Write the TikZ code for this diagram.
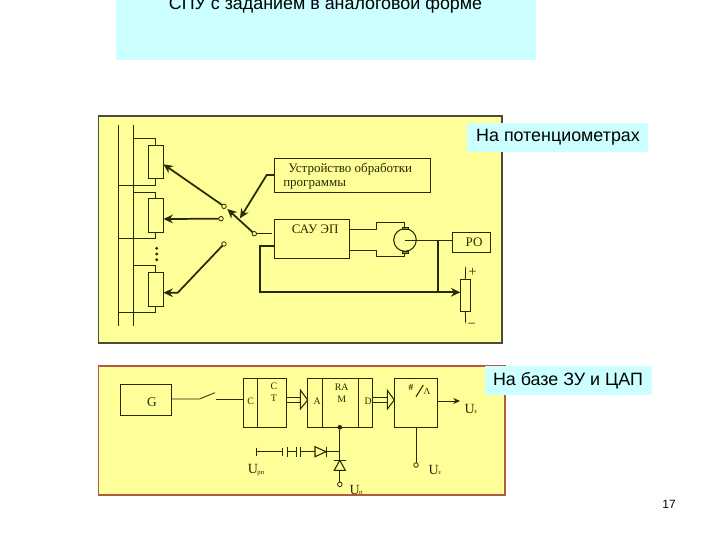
\documentclass[tikz,border=0pt]{standalone}
\usepackage{fontspec}
\setmainfont{Liberation Serif}
\newfontfamily\arial{Liberation Sans}
\usetikzlibrary{arrows.meta}
\definecolor{panely}{HTML}{FFFF99}
\definecolor{capc}{HTML}{CCFFFF}
\definecolor{ink}{HTML}{2A2A00}
\definecolor{border}{HTML}{4C4C3C}
\definecolor{redb}{HTML}{B05A40}
\newcommand{\pbox}[6][]{%
  \pgfmathsetmacro{\bw}{(#5-#3)*0.75}\pgfmathsetmacro{\bh}{(#6-#4)*0.75}%
  \node[blk,#1,minimum width=\bw pt,minimum height=\bh pt] (#2) at ({(#3+#5)/2},{(#4+#6)/2}) {};}
\newcommand{\usub}[1]{U\kern-0.5pt\raisebox{-0.1ex}{\fontsize{5}{5}\selectfont #1}}
\tikzset{
  blk/.style={draw=ink,line width=0.75pt,inner sep=0pt,outer sep=0pt},
  wire/.style={draw=ink,line width=0.6pt},
  bold/.style={draw=ink,line width=1.4pt},
  tipw/.style={draw=ink,line width=1.3pt,-{Stealth[length=7pt,width=6.5pt]}},
  cont/.style={circle,draw=ink,fill=panely,line width=0.6pt,minimum size=3.4pt,inner sep=0pt,outer sep=0pt},
  lab/.style={text=ink,font=\fontsize{9.75}{11}\selectfont,inner sep=0pt},
  slab/.style={text=ink,font=\fontsize{7.4}{8}\selectfont,inner sep=0pt},
  ulab/.style={text=ink,font=\fontsize{10.5}{11}\selectfont,inner sep=0pt},
  capbox/.style={fill=capc,inner sep=0pt,outer sep=0pt},
  captext/.style={text=black,font=\arial\fontsize{13.4}{15}\selectfont,inner sep=0pt},
  busarrow/.style={draw=ink,line width=0.8pt,fill=panely},
}
\begin{document}
\begin{tikzpicture}[x=0.75pt,y=-0.75pt]
\useasboundingbox[fill=white] (0,0) rectangle (720,540);
% title
\pbox[capbox,draw=none]{titlebox}{116}{0}{536}{60}
\begin{scope}
\clip (0,0) rectangle (720,540);
\node[captext] (title) at (325.5,4.5) {СПУ с заданием в аналоговой форме};
\end{scope}
% panels
\pbox[fill=panely,draw=border,line width=1pt]{panelA}{98.5}{116}{502}{343}
\pbox[fill=panely,draw=redb,line width=1pt]{panelB}{98.5}{366}{505}{495}
\pbox[capbox,draw=none]{capA}{467}{123}{648}{152}
\node[captext] (capAt) at (558,137.7) {На потенциометрах};
\pbox[capbox,draw=none]{capB}{485}{366}{651.7}{395}
\node[captext] (capBt) at (568,381) {На базе ЗУ и ЦАП};
\node[text=black,font=\arial\fontsize{9}{10}\selectfont,inner sep=0pt] (pg) at (669,504) {17};

% buses
\coordinate (b1t) at (118.7,125); \coordinate (b1b) at (118.7,325.7);
\coordinate (b2t) at (133.7,125); \coordinate (b2b) at (133.7,325.7);
\draw[wire] (b1t) -- (b1b); \draw[wire] (b2t) -- (b2b);
% potentiometers
\pbox{r1}{148}{145}{163.5}{178.7}
\pbox{r2}{148}{198.7}{163.5}{232.3}
\pbox{r3}{148}{272.3}{163.5}{306}
\foreach \r/\yt/\yb in {r1/138.3/185.3,r2/192/238.7,r3/265.3/312.3}{
  \coordinate (\r t) at (133.7,\yt);
  \coordinate (\r b) at (118.7,\yb);
  \draw[wire] (\r t) -| (\r.north);
  \draw[wire] (\r.south) |- (\r b);
}
\foreach \yy in {248.3,254,259.7}{\fill[ink] (156.7,\yy) circle[radius=1.6];}
% contacts
\node[cont] (c1) at (224,206.3) {};
\node[cont] (c2) at (221,218.7) {};
\node[cont] (c3) at (224,244) {};
\node[cont] (pole) at (254.3,233.7) {};
\coordinate (a1) at (163.5,164.3);
\coordinate (a2) at (163.5,219);
\coordinate (a3) at (163.5,292.7);
\coordinate (k3) at (177.7,292.7);
\draw[tipw] (c1) -- (a1);
\draw[tipw] (c2) -- (a2);
\draw[tipw] (c3) -- (k3) -- (a3);
\coordinate (polet) at (227.3,209);
\draw[tipw] (pole) -- (polet);
% boxes
\pbox{prog}{274.3}{158.7}{430.7}{192}
\node[lab,anchor=west] (progA) at (288,169) {Устройство обработки};
\node[lab,anchor=west] (progB) at (283,185) {программы};
\pbox{sau}{274.3}{219}{349}{258.7}
\node[lab,anchor=west] (saut) at (291.5,229) {САУ ЭП};
\coordinate (pk) at (266.7,175); \coordinate (pt) at (240,218.3);
\draw[tipw] (prog.west |- pk) -- (pk) -- (pt);
\coordinate (polee) at (272.3,233.7);
\draw[wire] (pole) -- (polee);
% motor
\node[circle,draw=ink,line width=0.8pt,minimum size=22.6*0.75pt,inner sep=0pt,outer sep=0pt] (mot) at (405,240) {};
\pbox[fill=ink!55!panely,line width=0.4pt]{brT}{402}{227.2}{408}{229.2}
\pbox[fill=ink!55!panely,line width=0.4pt]{brB}{402}{250.8}{408}{252.8}
\coordinate (s1) at (349,229); \coordinate (s2) at (376.7,229); \coordinate (s3) at (376.7,222.7); \coordinate (s4) at (404.3,222.7);
\draw[wire] (s1) -- (s2) -- (s3) -- (s4) -- (404.3,227.2);
\coordinate (t1) at (349,250.3); \coordinate (t2) at (376.7,250.3); \coordinate (t3) at (376.7,256.7); \coordinate (t4) at (404.3,256.7);
\draw[wire] (t1) -- (t2) -- (t3) -- (t4) -- (404.3,252.8);
% RO
\pbox{ro}{452.3}{232}{490}{252}
\node[lab] (rot) at (474,242.5) {РО};
\coordinate (mc) at (405,240.3);
\draw[bold,line width=1pt] (mc) -- (ro.west |- mc);
% feedback
\pbox{rfb}{460.3}{279.3}{470.3}{311.3}
\coordinate (fk) at (438.3,292.3);
\coordinate (f0) at (438.3,240.3);
\coordinate (fs) at (274.3,245.7);
\coordinate (f1) at (260,245.7);
\coordinate (f2) at (260,292.3);
\coordinate (f3) at (460.3,292.3);
\draw[bold] (f0) -- (fk);
\draw[tipw] (fs) -- (f1) -- (f2) -- (f3);
\coordinate (lt) at (465.7,266.7); \coordinate (lb) at (465.7,323.3);
\draw[wire] (lt) -- (rfb.north); \draw[wire] (rfb.south) -- (lb);
\node[text=ink,font=\fontsize{11}{12}\selectfont,inner sep=0pt] (plus) at (472.5,272.5) {+};
\node[text=ink,font=\fontsize{11}{12}\selectfont,inner sep=0pt] (minus) at (471.7,325.7) {−};

% panel B
\pbox{gen}{120.7}{384.7}{171.3}{415.3}
\node[text=ink,font=\fontsize{10}{11}\selectfont,inner sep=0pt] (gt) at (152,402.3) {G};
\pbox{cc}{243}{378.3}{257.3}{427.3}
\pbox{ct}{257.3}{378.3}{286.7}{427.3}
\node[slab] (cl) at (250.7,401) {C};
\node[slab] (ctA) at (274,386.7) {C};
\node[slab] (ctB) at (274,398.3) {T};
\coordinate (sw1) at (199.3,399); \coordinate (sw2) at (215,392.7); \coordinate (sw3) at (216,399);
\draw[wire] (gen.east |- sw1) -- (sw1) -- (sw2);
\draw[wire] (sw3) -- (cc.west |- sw3);
\pbox{ra}{307.7}{378.3}{322.3}{427.3}
\pbox{rm}{322.3}{378.3}{358.3}{427.3}
\pbox{rd}{358.3}{378.3}{372.7}{427.3}
\node[slab] (al) at (317.3,401.7) {A};
\node[slab] (raA) at (341.7,387.7) {RA};
\node[slab] (raB) at (341.7,399.7) {M};
\node[slab] (dl) at (368.3,401.7) {D};
\pbox{dac}{394.3}{378.3}{437.7}{427.3}
% bus arrows
\coordinate (bu) at (300.3,397.3); \coordinate (bl) at (300.3,402.7);
\draw[wire] (ct.east |- bu) -- (bu);
\draw[wire] (ct.east |- bl) -- (bl);
\draw[busarrow] (300.3,390) -- (307.7,400) -- (300.3,409) -- cycle;
\coordinate (cu) at (387.3,397.3); \coordinate (cl2) at (387.3,402.7);
\draw[wire] (rd.east |- cu) -- (cu);
\draw[wire] (rd.east |- cl2) -- (cl2);
\draw[busarrow] (387.3,390.3) -- (394.3,400) -- (387.3,409) -- cycle;
% DAC label
\node[text=ink,font=\bfseries\fontsize{7}{8}\selectfont,inner sep=0pt] (dh) at (411,387.7) {\#};
\coordinate (dsa) at (416,396.7); \coordinate (dsb) at (423.3,385);
\draw[draw=ink,line width=0.8pt] (dsa) -- (dsb);
\node[text=ink,font=\fontsize{7}{8}\selectfont,inner sep=0pt] (dA) at (427,391) {Λ};
% outputs
\coordinate (oe) at (460,401);
\draw[draw=ink,line width=0.7pt,-{Stealth[length=5pt,width=4.5pt]}] (dac.east |- oe) -- (oe);
\node[ulab,anchor=west] (uz1) at (464.3,409) {\usub{з}};
\node[cont] (uc) at (416,465) {};
\draw[wire] (uc |- dac.south) -- (uc);
\node[ulab,anchor=west] (uz2) at (428.3,470) {\usub{з}};
% diodes
\node[circle,fill=ink,minimum size=3.5pt,inner sep=0pt] (dot) at (339.8,427.3) {};
\node[cont] (un) at (339.8,484.3) {};
\draw[wire] (dot) -- (un);
\draw[busarrow,fill=panely] (334.3,470.3) -- (345.3,470.3) -- (339.8,460.3) -- cycle;
\draw[wire,line width=0.9pt] (333.8,460.3) -- (345.8,460.3);
\node[ulab,anchor=west] (unl) at (349.3,490) {\usub{п}};
\coordinate (hj) at (339.8,451.7);
\coordinate (h0) at (300.3,451.7);
\draw[wire] (h0) -- (hj);
\draw[busarrow,fill=panely] (315,446.7) -- (326,451.7) -- (315,456.7) -- cycle;
\draw[wire] (326,446.7) -- (326,456.7);
\draw[wire] (300.3,446.7) -- (300.3,456.7);
\draw[wire] (296.7,446.7) -- (296.7,456.7);
\draw[wire] (287.3,446.7) -- (287.3,456.7);
\draw[wire] (287.3,451.7) -- (296.7,451.7);
\draw[wire] (282.7,447.7) -- (282.7,455.7);
\draw[wire] (256.7,447.7) -- (256.7,455.7);
\draw[wire] (256.7,451.7) -- (282.7,451.7);
\node[ulab,anchor=west] (urp) at (247.7,470) {\usub{рп}};
\end{tikzpicture}
\end{document}
